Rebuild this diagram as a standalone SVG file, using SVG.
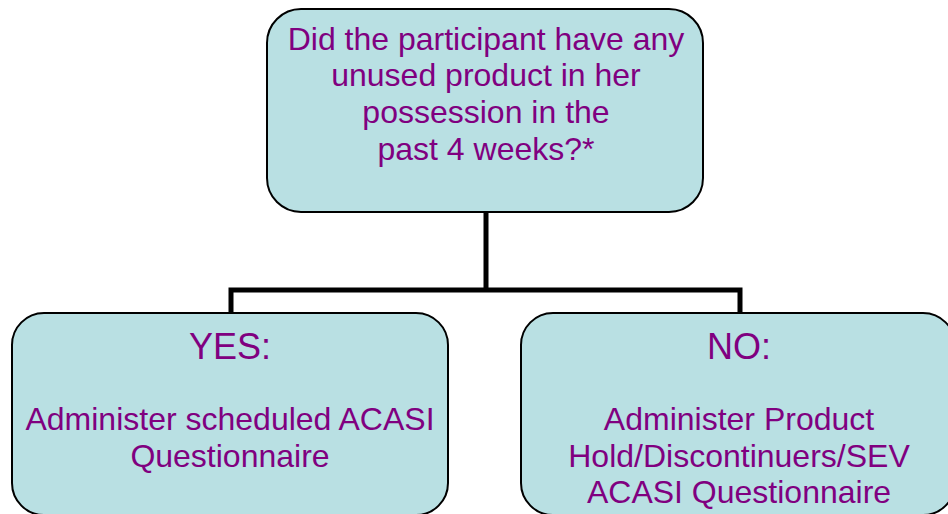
<svg xmlns="http://www.w3.org/2000/svg" width="948" height="514" viewBox="0 0 948 514">
<style>
.box{fill:#B9E0E3;stroke:#000;stroke-width:2}
.t{font-family:"Liberation Sans",Arial,sans-serif;fill:#800080;text-anchor:middle;font-size:32px}
.h{font-size:36px}
.c{fill:none;stroke:#000;stroke-width:5}
</style>
<rect width="948" height="514" fill="#fff"/>
<g id="connectors">
<path class="c" d="M486 212V290M231 315V290H740V315"/>
</g>
<g id="question">
<rect class="box" x="267" y="9" width="436" height="203" rx="34"/>
<text class="t" x="486" y="50">Did the participant have any</text>
<text class="t" x="486" y="86">unused product in her</text>
<text class="t" x="486" y="123">possession in the</text>
<text class="t" x="486" y="160">past 4 weeks?*</text>
</g>
<g id="yes">
<rect class="box" x="12" y="313" width="436" height="202" rx="32"/>
<text class="t h" x="230" y="359">YES:</text>
<text class="t" x="230" y="430">Administer scheduled ACASI</text>
<text class="t" x="230" y="467">Questionnaire</text>
</g>
<g id="no">
<rect class="box" x="521" y="313" width="434" height="202" rx="32"/>
<text class="t h" x="739" y="359">NO:</text>
<text class="t" x="739" y="430">Administer Product</text>
<text class="t" x="739" y="467">Hold/Discontinuers/SEV</text>
<text class="t" x="739" y="503">ACASI Questionnaire</text>
</g>
</svg>
